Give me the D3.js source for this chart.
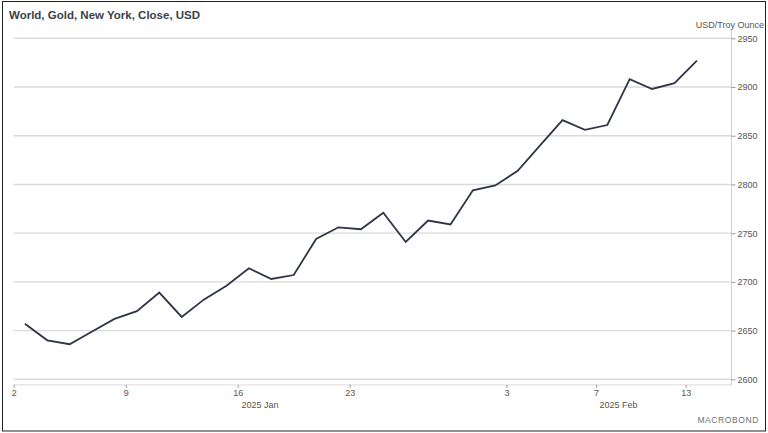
<!DOCTYPE html>
<html>
<head>
<meta charset="utf-8">
<script src="https://cdn.jsdelivr.net/npm/d3@7"></script>
<style>
  body { margin: 0; background: #fff; }
  svg { display: block; font-family: "Liberation Sans", Arial, sans-serif; }
</style>
</head>
<body>
<svg id="chart" width="768" height="433"></svg>
<script>
// business days shown on the axis (one point per day)
const dates = [
  "2025-01-02", "2025-01-03", "2025-01-06", "2025-01-07", "2025-01-08", "2025-01-09",
  "2025-01-10", "2025-01-13", "2025-01-14", "2025-01-15", "2025-01-16", "2025-01-17",
  "2025-01-20", "2025-01-21", "2025-01-22", "2025-01-23", "2025-01-24", "2025-01-27",
  "2025-01-28", "2025-01-29", "2025-01-30", "2025-01-31", "2025-02-03", "2025-02-04",
  "2025-02-05", "2025-02-06", "2025-02-07", "2025-02-10", "2025-02-11", "2025-02-12",
  "2025-02-13"
];
const goldClose = [
  2657, 2640, 2636, 2649, 2662, 2670, 2689, 2664, 2682, 2696, 2714, 2703,
  2707, 2744, 2756, 2754, 2771, 2741, 2763, 2759, 2794, 2799, 2814, 2840,
  2866, 2856, 2861, 2908, 2898, 2904, 2927
];
const xTickDates = ["2025-01-02", "2025-01-09", "2025-01-16", "2025-01-23", "2025-02-03", "2025-02-07", "2025-02-13"];
const months = [
  { label: "2025 Jan", first: "2025-01-02", last: "2025-01-31" },
  { label: "2025 Feb", first: "2025-02-03", last: "2025-02-14" }
];
const yTicks = [2600, 2650, 2700, 2750, 2800, 2850, 2900, 2950];
const title = "World, Gold, New York, Close, USD";
const unit = "USD/Troy Ounce";

const svg = d3.select("#chart");
const plotLeft = 13.7, plotRight = 731.5, plotTop = 38.3, plotBottom = 379.3;

// index of a date on the business-day axis (allow one day past the data)
const idx = (d) => (d === "2025-02-14" ? dates.length : dates.indexOf(d));

const x = d3.scaleLinear().domain([-0.5, 31.5]).range([plotLeft, 730.5]);
const y = d3.scaleLinear().domain([2600, 2950]).range([plotBottom, plotTop]);

// frame
svg.append("rect")
  .attr("x", 2.5).attr("y", 1.5)
  .attr("width", 763).attr("height", 429.5)
  .attr("fill", "none").attr("stroke", "#222").attr("stroke-width", 1);

svg.append("text")
  .attr("x", 9).attr("y", 19)
  .attr("font-size", 11.5).attr("font-weight", "bold")
  .attr("fill", "#3a3f4c")
  .text(title);

// grid
svg.append("g")
  .selectAll("line")
  .data(yTicks)
  .join("line")
  .attr("x1", plotLeft).attr("x2", plotRight)
  .attr("y1", (d) => y(d)).attr("y2", (d) => y(d))
  .attr("stroke", "#dadada").attr("stroke-width", 1.4);

// right axis
const yAxis = svg.append("g")
  .attr("transform", `translate(${plotRight},0)`)
  .call(d3.axisRight(y).tickValues(yTicks).tickSize(4).tickPadding(2).tickFormat(d3.format("d")));
yAxis.select(".domain").attr("stroke", "#cfcfcf").attr("d", `M0,${plotTop - 8}V${plotBottom + 6}`);
yAxis.selectAll(".tick line").attr("stroke", "#999");
yAxis.selectAll(".tick text").attr("fill", "#555").attr("font-size", 9).attr("font-family", "Liberation Sans, Arial, sans-serif");

svg.append("text")
  .attr("x", 764).attr("y", 28)
  .attr("text-anchor", "end")
  .attr("font-size", 9).attr("fill", "#555")
  .text(unit);

// bottom axis
const xAxis = svg.append("g")
  .attr("transform", `translate(0,${plotBottom + 5.5})`)
  .call(d3.axisBottom(x)
    .tickValues(xTickDates.map((d) => idx(d) - 0.5))
    .tickSize(3).tickPadding(2)
    .tickFormat((v, i) => +xTickDates[i].slice(8)));
xAxis.select(".domain").attr("stroke", "#e2e2e2").attr("stroke-width", 1.2).attr("d", `M${plotLeft},0H${plotRight}`);
xAxis.selectAll(".tick line").attr("stroke", "#999");
xAxis.selectAll(".tick text").attr("fill", "#555").attr("font-size", 9).attr("font-family", "Liberation Sans, Arial, sans-serif");

svg.append("g")
  .selectAll("text")
  .data(months)
  .join("text")
  .attr("x", (d) => (x(idx(d.first) - 0.5) + x(idx(d.last) + 0.5)) / 2)
  .attr("y", 408)
  .attr("text-anchor", "middle")
  .attr("font-size", 9).attr("fill", "#555")
  .text((d) => d.label);

// series
svg.append("path")
  .datum(goldClose)
  .attr("fill", "none")
  .attr("stroke", "#2f3547")
  .attr("stroke-width", 1.8)
  .attr("stroke-linejoin", "miter")
  .attr("d", d3.line().x((d, i) => x(i)).y((d) => y(d)));

// logo
svg.append("text")
  .attr("x", 759).attr("y", 423)
  .attr("text-anchor", "end")
  .attr("font-size", 8.5).attr("letter-spacing", 0.6)
  .attr("fill", "#6d7078")
  .text("MACROBOND");
</script>
</body>
</html>
